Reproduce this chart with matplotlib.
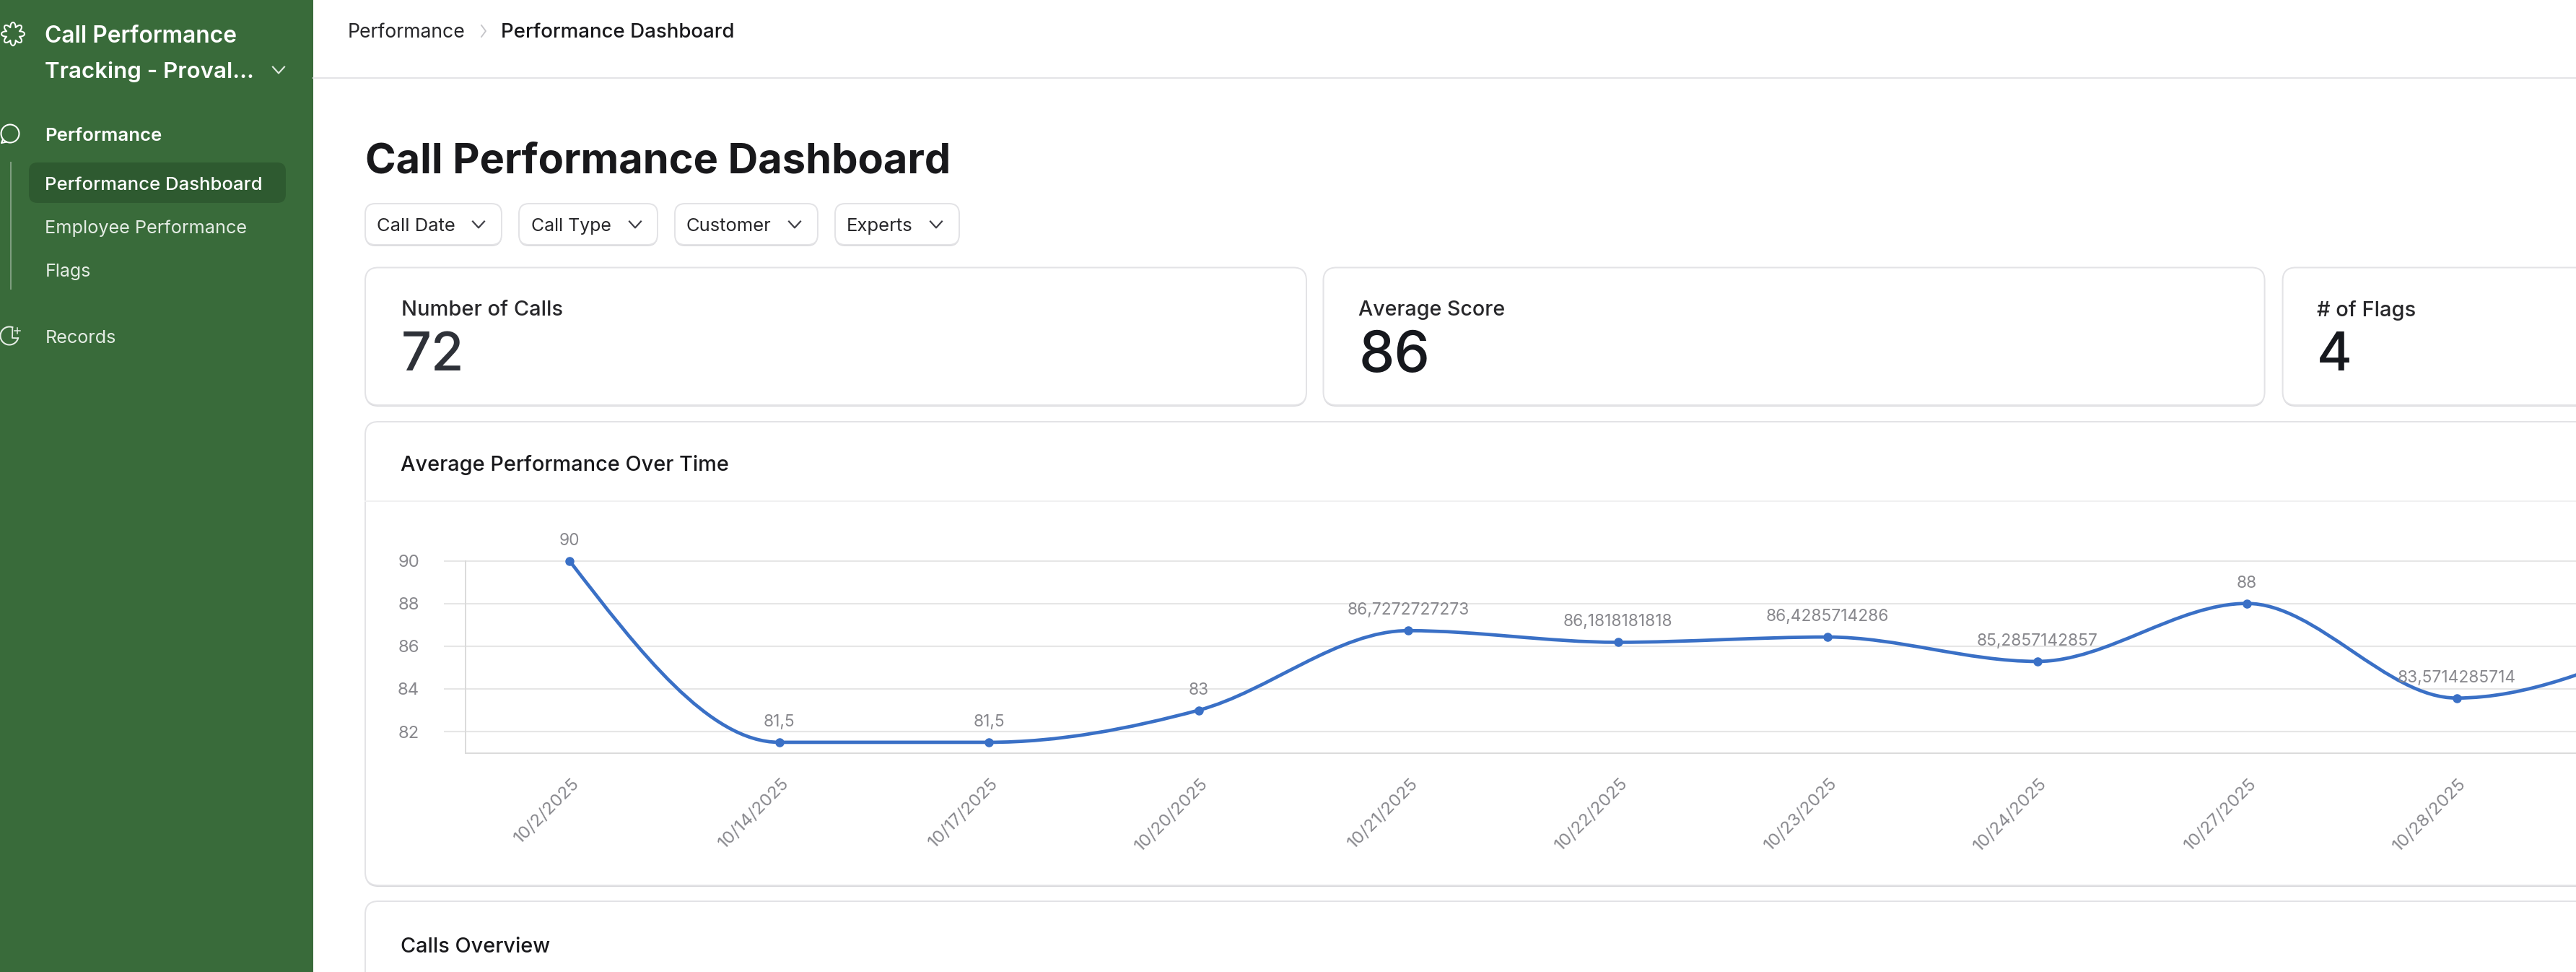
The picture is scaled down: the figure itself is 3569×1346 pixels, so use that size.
import numpy as np
import matplotlib
matplotlib.use("Agg")
import matplotlib.pyplot as plt
from matplotlib.patches import FancyBboxPatch, PathPatch, Rectangle, Circle
from matplotlib.path import Path
from matplotlib.lines import Line2D
from matplotlib.transforms import ScaledTranslation

W, H = 3569, 1346
plt.rcParams['font.family'] = ['Inter', 'DejaVu Sans']

# ---------- chart data ----------
dates = ['10/2/2025', '10/14/2025', '10/17/2025', '10/20/2025', '10/21/2025',
         '10/22/2025', '10/23/2025', '10/24/2025', '10/27/2025', '10/28/2025']
scores = [90, 81.5, 81.5, 83, 86.7272727273, 86.1818181818, 86.4285714286,
          85.2857142857, 88, 83.5714285714]
# the following point lies past the right edge of the screenshot (estimated from the curve)
next_score = [86.3]
y_ticks = [82, 84, 86, 88, 90]

# ---------- page text ----------
kpi_titles = ['Number of Calls', 'Average Score', '# of Flags']
kpi_values = ['72', '86', '4']
filters = ['Call Date', 'Call Type', 'Customer', 'Experts']

GREEN = '#396B3A'
GREEN_DK = '#2E5A30'
INK = '#18181B'
GREY = '#88888D'
GRID = '#E6E6E6'
BORDER = '#E3E3E6'
BLUE = '#3A70C6'

fig = plt.figure(figsize=(W / 100, H / 100), dpi=100, facecolor='white')
ui = fig.add_axes([0, 0, 1, 1], zorder=0)
ui.set_xlim(0, W)
ui.set_ylim(H, 0)
ui.axis('off')
renderer = fig.canvas.get_renderer()


def fit(x0, x1, yc, s, color=INK, weight='normal'):
    t = ui.text(x0, yc + 2.5, s, color=color, fontweight=weight, fontsize=20, ha='left', va='center')
    w = t.get_window_extent(renderer).width
    t.set_fontsize(20 * (x1 - x0) / w)
    return t


def card(x0, y0, x1, y1, r=18, fc='white', ec=BORDER, lw=2, shadow=True, z=1):
    if shadow:
        ui.add_patch(FancyBboxPatch((x0, y0 + 2), x1 - x0, y1 - y0,
                                    boxstyle=f'round,pad=0,rounding_size={r}',
                                    fc='#D9D9DC', ec='none', zorder=z))
    ui.add_patch(FancyBboxPatch((x0, y0), x1 - x0, y1 - y0,
                                boxstyle=f'round,pad=0,rounding_size={r}',
                                fc=fc, ec=ec, lw=lw * 0.72, zorder=z + 0.1))


def chevron(x, y, color, s=8, lw=2.2):
    ui.add_line(Line2D([x - s, x, x + s], [y - s * 0.55, y + s * 0.55, y - s * 0.55],
                       color=color, lw=lw * 0.72, zorder=5))


# ---------- sidebar ----------
ui.add_patch(Rectangle((0, 0), 434, H, fc=GREEN, ec='none', zorder=0.5))
ui.add_patch(FancyBboxPatch((40, 225), 356, 56, boxstyle='round,pad=0,rounding_size=12',
                            fc=GREEN_DK, ec='none', zorder=1))
ui.add_line(Line2D([15, 15], [225, 400], color='#7E9E7F', lw=1.5, zorder=1))
fit(62.5, 329, 48, 'Call Performance', 'white', 'semibold').set_zorder(5)
fit(62.5, 353, 97, 'Tracking - Proval...', 'white', 'semibold').set_zorder(5)
chevron(386, 97, '#DDE7DD')
fit(62.5, 225, 186, 'Performance', 'white', 'semibold').set_zorder(5)
fit(62.5, 363, 254, 'Performance Dashboard', 'white', 'medium').set_zorder(5)
fit(62.5, 342, 314, 'Employee Performance', '#E4ECE4').set_zorder(5)
fit(62.5, 126, 374, 'Flags', '#E4ECE4').set_zorder(5)
fit(62.5, 161, 466, 'Records', '#E4ECE4').set_zorder(5)
# icons
th = np.linspace(0, 2 * np.pi, 400)
r_fl = 9.5 + 6.5 * np.abs(np.cos(4 * th))
ui.plot(18 + r_fl * np.sin(th), 47 + r_fl * np.cos(th), color='white', lw=1.5, zorder=5)
ui.add_patch(Circle((14, 185), 12.5, fc='none', ec='white', lw=1.5, zorder=5))
ui.add_line(Line2D([4, 2, 9], [193, 198, 196.5], color='white', lw=1.5, zorder=5))
a = np.radians(np.linspace(-70, -345, 80))
ui.plot(13 + 12.5 * np.cos(a), 465 + 12.5 * np.sin(a), color='#E4ECE4', lw=1.5, zorder=5)
ui.plot([13 + 12.5 * np.cos(a[-1]), 17, 17.2, 13 + 12.5 * np.cos(a[0])],
        [465 + 12.5 * np.sin(a[-1]), 468, 462, 465 + 12.5 * np.sin(a[0])],
        color='#E4ECE4', lw=1.3, zorder=5)
ui.plot([24, 24], [454, 462], color='#E4ECE4', lw=1.1, zorder=5)
ui.plot([20, 28], [458, 458], color='#E4ECE4', lw=1.1, zorder=5)

# ---------- header ----------
ui.add_line(Line2D([434, W], [108, 108], color='#E4E4E7', lw=1.5, zorder=1))
fit(482, 645, 43, 'Performance', '#27272A')
ui.add_line(Line2D([667, 673, 667], [35, 43, 51], color='#C4C4C8', lw=1.3, zorder=2))
fit(694, 1017, 43, 'Performance Dashboard', INK, 'medium')
fit(506, 1319, 222.5, 'Call Performance Dashboard', INK, 'bold')

# ---------- filter buttons ----------
btn_x0 = [506, 719, 935, 1157]
btn_x1 = [695, 911, 1133, 1329]
lab_x0 = [522, 736, 951, 1173]
lab_x1 = [631, 847, 1069, 1265]
chev_x = [663, 880, 1101, 1297]
for f, a0, a1, l0, l1, cx in zip(filters, btn_x0, btn_x1, lab_x0, lab_x1, chev_x):
    card(a0, 282, a1, 339, r=14)
    fit(l0, l1, 311, f, '#27272A').set_zorder(5)
    chevron(cx, 311, '#3F3F46', s=8)

# ---------- KPI cards ----------
card_x0 = [506, 1833.5, 3162.6]
card_x1 = [1810, 3137.6, W + 60]
title_x0 = [555.5, 1882.4, 3210]
title_x1 = [779, 2085, 3347]
val_x1 = [643, 1981, 3259]
val_col = ['#2E3138', '#16181D', '#16181D']
for i in range(3):
    card(card_x0[i], 370.5, card_x1[i], 561)
    fit(title_x0[i], title_x1[i], 427, kpi_titles[i], '#27272A', 'medium').set_zorder(5)
    fit(title_x0[i], val_x1[i], 491, kpi_values[i], val_col[i], 'medium').set_zorder(5)

# ---------- chart card ----------
card(506, 584, W + 60, 1226)
ui.add_line(Line2D([506, W], [694, 694], color='#F0F0F1', lw=1.5, zorder=3))
fit(554.6, 1008, 641, 'Average Performance Over Time', INK, 'medium').set_zorder(5)
card(506, 1248, W + 60, H + 60)
fit(554.6, 761, 1309, 'Calls Overview', INK, 'medium').set_zorder(5)

# ---------- line chart ----------
px_left, px_bottom, px_top, step, first = 644.5, 1042.7, 776.5, 290.5, 789.0
ax = fig.add_axes([px_left / W, (H - px_bottom) / H, (W - px_left) / W, (px_bottom - px_top) / H],
                  zorder=5)
ax.patch.set_alpha(0)
ax.set_xlim((px_left - first) / step, (W - first) / step)
ax.set_ylim(81, 90)
ax.spines['top'].set_visible(False)
ax.spines['right'].set_visible(False)
for s in ('left', 'bottom'):
    ax.spines[s].set_color('#DADADA')
    ax.spines[s].set_linewidth(1.4)
ax.set_yticks(y_ticks)
ax.tick_params(axis='y', length=30 * 0.72, width=1.5, color=GRID, pad=24, labelcolor=GREY, labelsize=17.2)
ax.grid(axis='y', color=GRID, lw=1.5, zorder=0)
ax.set_axisbelow(True)
ax.set_xticks(range(len(dates)))
ax.set_xticklabels(dates, rotation=45, ha='right', va='center', rotation_mode='anchor',
                   color=GREY, fontsize=17.4)
ax.tick_params(axis='x', length=0, pad=28)
off = ScaledTranslation(10 / 100, 0, fig.dpi_scale_trans)
for lb in ax.get_xticklabels():
    lb.set_transform(lb.get_transform() + off)


def monotone_path(xs, ys):
    """d3 curveMonotoneX through the data points, as cubic Bezier segments."""
    xs, ys = np.asarray(xs, float), np.asarray(ys, float)
    d = np.diff(ys) / np.diff(xs)
    h = np.diff(xs)
    m = np.zeros_like(ys)
    for i in range(1, len(ys) - 1):
        s0, s1 = d[i - 1], d[i]
        p = (s0 * h[i] + s1 * h[i - 1]) / (h[i - 1] + h[i])
        m[i] = (np.sign(s0) + np.sign(s1)) * min(abs(s0), abs(s1), 0.5 * abs(p))
    m[0] = (3 * d[0] - m[1]) / 2
    m[-1] = (3 * d[-1] - m[-2]) / 2
    verts, codes = [(xs[0], ys[0])], [Path.MOVETO]
    for i in range(len(h)):
        dx = h[i] / 3
        verts += [(xs[i] + dx, ys[i] + m[i] * dx), (xs[i + 1] - dx, ys[i + 1] - m[i + 1] * dx),
                  (xs[i + 1], ys[i + 1])]
        codes += [Path.CURVE4] * 3
    return Path(verts, codes)


all_scores = scores + next_score
xpos = np.arange(len(all_scores))
ax.add_patch(PathPatch(monotone_path(xpos, all_scores), fc='none', ec=BLUE, lw=3.4,
                       clip_on=False, zorder=3))
ax.plot(range(len(scores)), scores, ls='none', marker='o', ms=8, mfc=BLUE, mec=BLUE,
        clip_on=False, zorder=4)
for i, v in enumerate(scores):
    ax.annotate(str(v).replace('.', ','), (i, v), xytext=(0, 28 * 0.72), textcoords='offset points',
                ha='center', va='center', color=GREY, fontsize=16.4, annotation_clip=False, zorder=5)

fig.savefig('out.png', dpi=100, facecolor='white')
